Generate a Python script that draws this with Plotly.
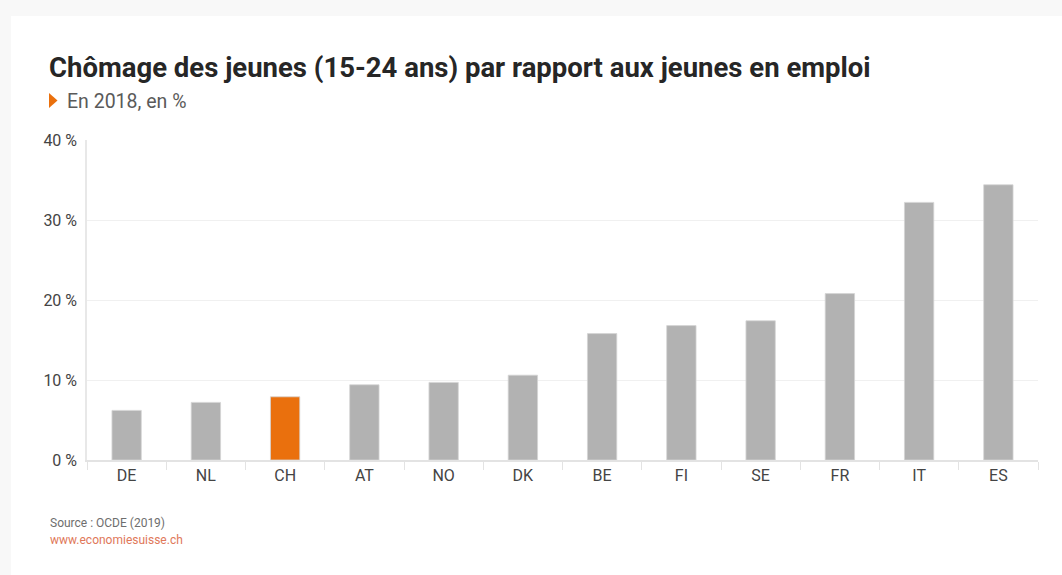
import plotly.graph_objects as go

categories = ["DE", "NL", "CH", "AT", "NO", "DK", "BE", "FI", "SE", "FR", "IT", "ES"]
values = [6.2, 7.2, 7.9, 9.4, 9.7, 10.6, 15.8, 16.8, 17.4, 20.8, 32.2, 34.4]
highlight = "CH"
y_ticks = [0, 10, 20, 30, 40]
y_ticklabels = ["0 %", "10 %", "20 %", "30 %", "40 %"]

title = "Chômage des jeunes (15-24 ans) par rapport aux jeunes en emploi"
subtitle = "En 2018, en %"
source = "Source : OCDE (2019)"
site = "www.economiesuisse.ch"

GREY = "#b2b2b2"
ORANGE = "#ea700d"
FONT = "Roboto"

W, H = 1062, 575
L, R, T, B = 87, 24, 140, 115
PW, PH = W - L - R, H - T - B


def px(x):
    return (x - L) / PW


def py(y):
    return (H - B - y) / PH


colors = [ORANGE if c == highlight else GREY for c in categories]

fig = go.Figure(
    go.Bar(
        x=categories,
        y=values,
        marker=dict(color=colors, line=dict(color="#d4d4d4", width=0.8)),
        hoverinfo="x+y",
    )
)

fig.update_layout(
    width=W,
    height=H,
    margin=dict(l=L, r=R, t=T, b=B, pad=0),
    paper_bgcolor="#f8f8f8",
    plot_bgcolor="rgba(0,0,0,0)",
    bargap=0.63,
    showlegend=False,
    font=dict(family=FONT, color="#444444"),
    xaxis=dict(
        type="category",
        tickson="boundaries",
        ticks="outside",
        ticklen=8,
        tickcolor="#e3e3e3",
        tickwidth=1,
        showline=True,
        linecolor="#e3e3e3",
        linewidth=1.5,
        showgrid=False,
        tickfont=dict(size=16, color="#444444", family=FONT),
    ),
    yaxis=dict(
        range=[0, 40],
        tickvals=y_ticks,
        ticktext=y_ticklabels,
        showgrid=True,
        gridcolor="#f0f0f0",
        gridwidth=1,
        showline=True,
        linecolor="#e8e8e8",
        linewidth=1.5,
        zeroline=False,
        ticks="",
        ticklabelstandoff=5,
        tickfont=dict(size=16, color="#444444", family=FONT),
    ),
    shapes=[
        dict(type="rect", xref="paper", yref="paper",
             x0=px(11), x1=px(W + 5), y0=py(H + 5), y1=py(16),
             fillcolor="white", line=dict(width=0), layer="below"),
        dict(type="path", xref="paper", yref="paper",
             path=f"M {px(49)} {py(93)} L {px(57.5)} {py(100.5)} L {px(49)} {py(108)} Z",
             fillcolor=ORANGE, line=dict(width=0)),
    ],
    annotations=[
        dict(text=f"<b>{title}</b>", xref="paper", yref="paper",
             x=px(47), y=py(67), xanchor="left", yanchor="middle", showarrow=False,
             font=dict(size=27.5, color="#262626", family=FONT)),
        dict(text=subtitle, xref="paper", yref="paper",
             x=px(65), y=py(101), xanchor="left", yanchor="middle", showarrow=False,
             font=dict(size=19.5, color="#5a5a5a", family=FONT)),
        dict(text=source, xref="paper", yref="paper",
             x=px(48), y=py(523), xanchor="left", yanchor="middle", showarrow=False,
             font=dict(size=12, color="#6e6e6e", family=FONT)),
        dict(text=site, xref="paper", yref="paper",
             x=px(48), y=py(540), xanchor="left", yanchor="middle", showarrow=False,
             font=dict(size=12, color="#e0785a", family=FONT)),
    ],
)

fig.write_html("out.html", config={"displayModeBar": False},
               post_script="document.body.style.margin='0';")
